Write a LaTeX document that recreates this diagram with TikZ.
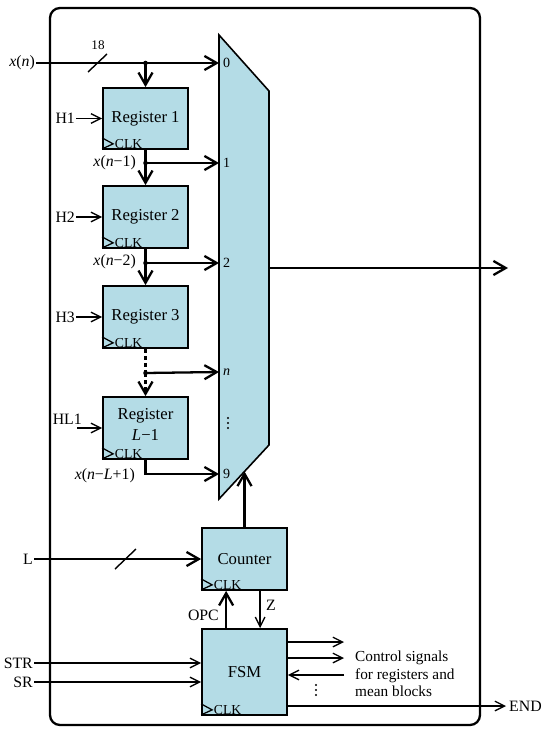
\documentclass[tikz,border=0pt]{standalone}
\usepackage{fontspec}
\setmainfont{Liberation Serif}
\usetikzlibrary{arrows.meta,calc}
\definecolor{regblue}{RGB}{180,220,230}
\begin{document}
\begin{tikzpicture}[x=0.02cm,y=-0.02cm,
  reg/.style={draw,fill=regblue,line width=1pt,minimum width=1.7cm,inner sep=0pt,font=\fontsize{9.5}{11}\selectfont},
  bus/.style={line width=1.3pt,-{Straight Barb[length=7pt,width=8pt,line width=1.3pt]}},
  sig/.style={line width=0.75pt,-{Straight Barb[length=5.5pt,width=5.5pt,line width=0.75pt]}},
  thinline/.style={line width=0.75pt},
  lab/.style={font=\fontsize{9}{11}\selectfont,inner sep=0.5pt},
  small/.style={font=\fontsize{8}{9}\selectfont,inner sep=0.5pt},
  jdot/.style={fill,circle,inner sep=0pt,minimum size=2.6pt},
  clk/.pic={\draw[line width=0.7pt] (0,-12) -- (11,-6) -- (0,-1);
            \node[anchor=west,inner sep=0pt,font=\fontsize{7.8}{8}\selectfont] (-t) at (12.5,-6) {CLK};}
]
\useasboundingbox (0,0) rectangle (550,733);
% frame
\draw[line width=1.3pt,rounded corners=0.2cm] (50,8) rectangle (480,725);

% mux
\draw[fill=regblue,line width=0.9pt] (219,35) -- (269,91) -- (269,445) -- (219,499) -- cycle;
\coordinate (m0) at (219,63);
\coordinate (m1) at (219,163);
\coordinate (m2) at (219,263);
\coordinate (mn) at (219,372);
\coordinate (m9) at (219,474);
\coordinate (mb) at (244.5,471.5);
\coordinate (mout) at (269,268);
\coordinate (outend) at (508,268);
\node[small,anchor=west] (l0) at (222,63) {0};
\node[small,anchor=west] (l1) at (222,163) {1};
\node[small,anchor=west] (l2) at (222,263) {2};
\node[small,anchor=west] (ln) at (222,372) {\textit{n}};
\node[small,anchor=west] (l9) at (222,474) {9};
\foreach \yy in {418,423,428} \fill (228,\yy) circle (1.1);

% registers
\node[reg,minimum height=1.22cm] (r1) at (145.5,118.5) {Register 1};
\node[reg,minimum height=1.24cm] (r2) at (145.5,217) {Register 2};
\node[reg,minimum height=1.24cm] (r3) at (145.5,317) {Register 3};
\node[reg,minimum height=1.24cm,align=center] (rL) at (145.5,428) {};
\node[lab,font=\fontsize{9.5}{11}\selectfont] (rLa) at (145.5,416) {Register};
\node[lab,font=\fontsize{9.5}{11}\selectfont] (rLb) at (145.5,435) {\textit{L}−1};
\pic (c1) at (r1.south west) {clk};
\pic (c2) at (r2.south west) {clk};
\pic (c3) at (r3.south west) {clk};
\pic (c4) at (rL.south west) {clk};

% x(n) input
\node[lab,anchor=east] (xn) at (36,63) {\textit{x}(\textit{n})};
\draw[bus] (xn.east) -- (m0);
\draw[line width=0.8pt] (88,72) -- (107,54);
\node[small,font=\fontsize{7.5}{8}\selectfont] (w18) at (98,45) {18};
\coordinate (j0) at (145.5,63);
\node[jdot] (d0) at (j0) {};
\draw[bus] (j0) -- (r1.north);

% reg1 -> reg2
\coordinate (j1) at (145.5,163);
\draw[bus] (r1.south) -- (r2.north);
\draw[bus] (j1) -- (m1);
\node[jdot] (d1) at (j1) {};
\node[lab,anchor=east] (xn1) at (137,163) {\textit{x}(\textit{n}−1)};

% reg2 -> reg3
\coordinate (j2) at (145.5,263);
\draw[bus] (r2.south) -- (r3.north);
\draw[bus] (j2) -- (m2);
\node[jdot] (d2) at (j2) {};
\node[lab,anchor=east] (xn2) at (137,262) {\textit{x}(\textit{n}−2)};

% reg3 -> regL
\coordinate (jn) at (145.5,373);
\draw[line width=1.3pt,dash pattern=on 2.5pt off 1.5pt] (r3.south) -- (jn);
\draw[bus,dash pattern=on 2.5pt off 1.5pt] (jn) -- (rL.north);
\draw[bus] (jn) -- (mn);
\node[jdot] (dn) at (jn) {};

% regL -> mux 9
\draw[bus] (rL.south) |- (m9);
\node[lab,anchor=east] (xnl) at (136,476) {\textit{x}(\textit{n}−\textit{L}+1)};

% H inputs
\node[lab,anchor=east] (h1) at ([xshift=-0.52cm]r1.west) {H1};
\draw[sig] (h1.east) -- (r1.west);
\node[lab,anchor=east] (h2) at ([xshift=-0.52cm]r2.west) {H2};
\draw[sig] (h2.east) -- (r2.west);
\node[lab,anchor=east] (h3) at ([xshift=-0.52cm]r3.west) {H3};
\draw[sig] (h3.east) -- (r3.west);
\node[lab,anchor=east] (hl) at (83,419) {HL1};
\coordinate (hls) at (77,428);
\draw[sig] (hls) -- (rL.west);

% output
\draw[bus] (mout) -- (outend);

% counter and FSM
\node[reg,minimum height=1.24cm] (cnt) at (244.5,559) {Counter};
\node[reg,minimum height=1.72cm] (fsm) at (244.5,672) {FSM};
\pic (c5) at (cnt.south west) {clk};
\pic (c6) at (fsm.south west) {clk};
\draw[bus] (cnt.north) -- (mb);

\node[lab,anchor=east] (lL) at (34,559) {L};
\draw[bus] (lL.east) -- (cnt.west);
\draw[line width=0.8pt] (115,569) -- (136,549);

\draw[bus] ([xshift=0.5cm]fsm.north west) -- ([xshift=0.5cm]cnt.south west);
\node[lab,anchor=east] (opc) at (220,615) {OPC};
\draw[sig] ([xshift=1.18cm]cnt.south west) -- ([xshift=1.18cm]fsm.north west);
\node[lab,anchor=west] (zl) at (265,605) {Z};

\node[lab,anchor=east] (str) at (34,663) {STR};
\draw[sig] (str.east) -- (str.east -| fsm.west);
\node[lab,anchor=east] (sr) at (34,682) {SR};
\draw[sig] (sr.east) -- (sr.east -| fsm.west);

% control signals
\coordinate (o1) at (344,642);
\coordinate (o2) at (344,658);
\coordinate (o3) at (344,675);
\coordinate (o4) at (506,706);
\draw[sig] (o1 -| fsm.east) -- (o1);
\draw[sig] (o2 -| fsm.east) -- (o2);
\draw[sig] (o3) -- (o3 -| fsm.east);
\draw[sig] (o4 -| fsm.east) -- (o4);
\foreach \yy in {685,690,695} \fill (316,\yy) circle (1.1);
\node[lab,anchor=west,align=left,font=\fontsize{8.7}{10}\selectfont] (ctl) at (354,674) {Control signals\\for registers and\\mean blocks};
\node[lab,anchor=west] (endl) at (508,706) {END};
\end{tikzpicture}
\end{document}
